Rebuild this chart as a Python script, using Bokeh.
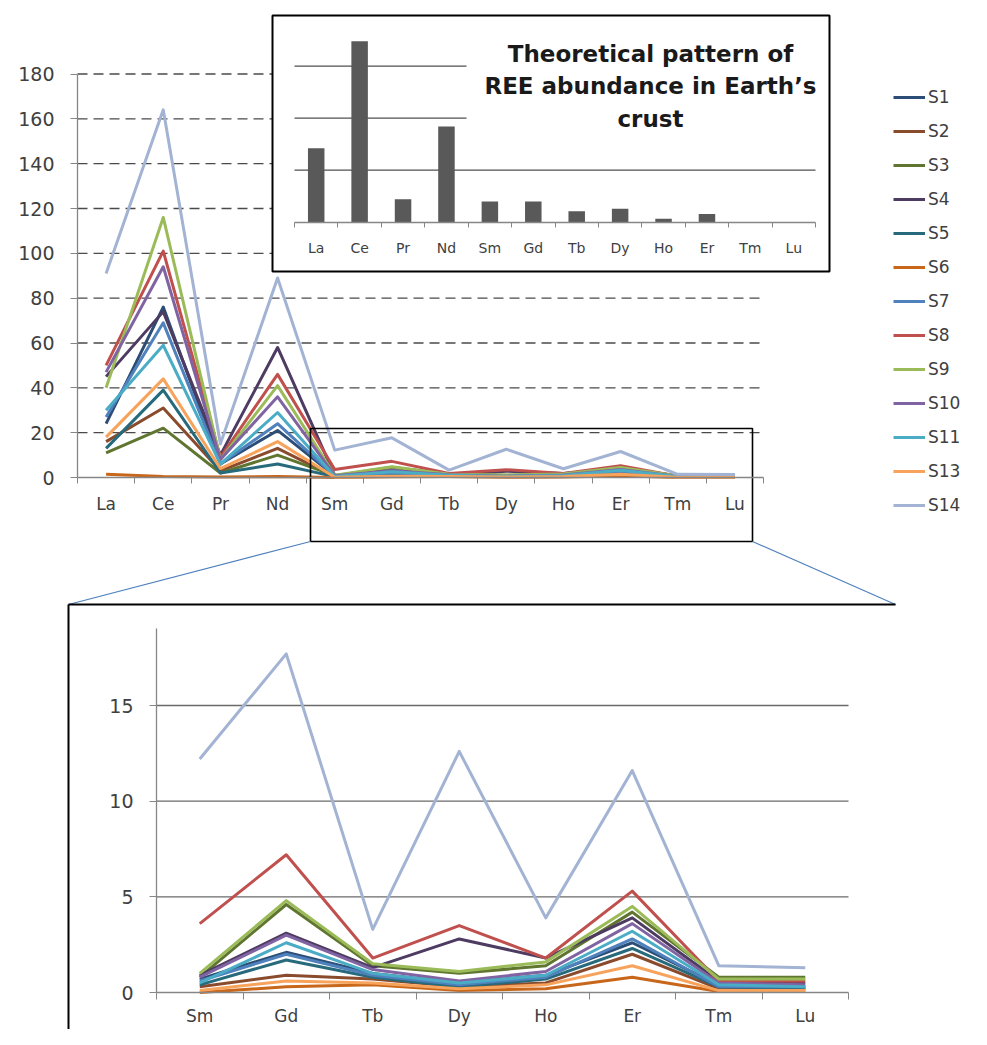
from bokeh.plotting import figure
from bokeh.models import Range1d, LinearAxis, FixedTicker, Legend, LegendItem
from bokeh.core.properties import value
from bokeh.embed import file_html
from bokeh.resources import INLINE

# ---------------- data ----------------
elements = ["La", "Ce", "Pr", "Nd", "Sm", "Gd", "Tb", "Dy", "Ho", "Er", "Tm", "Lu"]
zoom_elements = elements[4:]
crust = [28.4, 69.6, 8.8, 36.8, 8.0, 8.0, 4.2, 5.2, 1.3, 3.2, 0.0, 0.0]

s1 = [24, 76, 6, 21, 0.7, 2.1, 1.0, 0.5, 0.9, 2.6, 0.4, 0.3]
s2 = [16, 31, 3, 13, 0.3, 0.9, 0.7, 0.3, 0.5, 2.0, 0.2, 0.2]
s3 = [11, 22, 2, 10, 0.8, 4.6, 1.4, 1.0, 1.4, 4.2, 0.8, 0.8]
s4 = [45, 74, 10, 58, 0.9, 3.1, 1.3, 2.8, 1.8, 3.9, 0.6, 0.5]
s5 = [13, 39, 2, 6, 0.4, 1.7, 0.8, 0.3, 0.7, 2.3, 0.3, 0.2]
s6 = [1.5, 0.5, 0.2, 0.5, 0.0, 0.3, 0.4, 0.1, 0.2, 0.8, 0.05, 0.05]
s7 = [27, 69, 6, 24, 0.6, 2.0, 0.9, 0.4, 0.8, 2.8, 0.3, 0.3]
s8 = [50, 101, 9, 46, 3.6, 7.2, 1.8, 3.5, 1.8, 5.3, 0.6, 0.6]
s9 = [40, 116, 8, 41, 1.0, 4.8, 1.5, 1.1, 1.6, 4.5, 0.7, 0.7]
s10 = [47, 94, 8, 36, 0.8, 3.0, 1.2, 0.6, 1.1, 3.6, 0.5, 0.4]
s11 = [30, 59, 6, 29, 0.5, 2.6, 1.0, 0.5, 0.9, 3.2, 0.4, 0.3]
s13 = [18, 44, 4, 16, 0.1, 0.6, 0.5, 0.2, 0.4, 1.4, 0.1, 0.1]
s14 = [91, 164, 15, 89, 12.2, 17.7, 3.3, 12.6, 3.9, 11.6, 1.4, 1.3]

series_names = ["S1", "S2", "S3", "S4", "S5", "S6", "S7", "S8", "S9", "S10", "S11", "S13", "S14"]
series_values = [s1, s2, s3, s4, s5, s6, s7, s8, s9, s10, s11, s13, s14]
series_colors = ["#2C4D75", "#8A4B2D", "#5F7530", "#4D3B62", "#276A7C", "#C8661A", "#4F81BD",
                 "#C0504D", "#9BBB59", "#8064A2", "#4BACC6", "#F7A35C", "#A3B3D3"]

main_yticks = [0, 20, 40, 60, 80, 100, 120, 140, 160, 180]
zoom_yticks = [0, 5, 10, 15]
zoom_ymax = 19
inset_grid = [20, 40, 60]
title_lines = ["Theoretical pattern of", "REE abundance in Earth\u2019s", "crust"]

# ---------------- layout (screenshot pixels) ----------------
W, H = 971, 1029
OX, OY = 0, 0
FONT = "DejaVu Sans"
TXT = "#404040"
AXC = "#868686"


def lin_range(d0, p0, d1, p1, q0, q1):
    k = (d1 - d0) / (p1 - p0)
    return Range1d(d0 + (q0 - p0) * k, d0 + (q1 - p0) * k)


def xr(d0, p0, d1, p1):
    return lin_range(d0, p0, d1, p1, OX, OX + W)


def yr(d0, p0, d1, p1):
    return lin_range(d0, p0, d1, p1, OY + H, OY)


n = len(elements)
nz = len(zoom_elements)
idx = list(range(n))
zidx = list(range(nz))
bnd = [i - 0.5 for i in range(n + 1)]
zbnd = [i - 0.5 for i in range(nz + 1)]

p = figure(width=W, height=H, x_range=Range1d(OX, OX + W), y_range=Range1d(OY + H, OY),
           x_axis_type=None, y_axis_type=None, toolbar_location=None,
           output_backend="svg", min_border=0)
p.outline_line_color = None
p.background_fill_color = "white"

p.extra_x_ranges = {
    "mx": xr(-0.5, 77, n - 0.5, 763),
    "zx": xr(-0.5, 156, nz - 0.5, 848),
    "ix": xr(-0.5, 294, n - 0.5, 815),
}
p.extra_y_ranges = {
    "my": yr(0, 477, 180, 73.5),
    "zy": yr(0, 992, 15, 705),
    "iy": yr(0, 221.7, 60, 65.7),
}

# ---------------- main chart ----------------
gy = main_yticks[1:]
p.segment(x0=[bnd[0]] * len(gy), x1=[bnd[-1]] * len(gy), y0=gy, y1=gy,
          x_range_name="mx", y_range_name="my",
          line_color="#4a4a4a", line_width=1.3, line_dash="10 6")

renderers = []
for name, vals, col in zip(series_names, series_values, series_colors):
    r = p.line(idx, vals, x_range_name="mx", y_range_name="my",
               line_color=col, line_width=3, line_join="round")
    renderers.append(r)


def cat_axis(xn, yn, ticks, minor, labels, lo, hi, size, standoff, tick_out):
    ax = LinearAxis(x_range_name=xn, y_range_name=yn, fixed_location=0,
                    bounds=(lo, hi), ticker=FixedTicker(ticks=ticks, minor_ticks=minor))
    ax.major_label_overrides = {i: lab for i, lab in zip(ticks, labels)}
    ax.major_tick_line_color = None
    ax.minor_tick_line_color = AXC
    ax.minor_tick_in = 0
    ax.minor_tick_out = tick_out
    ax.axis_line_color = AXC
    ax.axis_line_width = 1.3
    ax.major_label_text_font = FONT
    ax.major_label_text_font_size = size
    ax.major_label_text_color = TXT
    ax.major_label_standoff = standoff
    return ax


def val_axis(xn, yn, ticks, lo, hi, loc, size, standoff):
    ax = LinearAxis(x_range_name=xn, y_range_name=yn, fixed_location=loc,
                    bounds=(lo, hi), ticker=FixedTicker(ticks=ticks, minor_ticks=[]))
    ax.major_tick_line_color = AXC
    ax.major_tick_in = 0
    ax.major_tick_out = 7
    ax.minor_tick_line_color = None
    ax.axis_line_color = AXC
    ax.axis_line_width = 1.3
    ax.major_label_text_font = FONT
    ax.major_label_text_font_size = size
    ax.major_label_text_color = TXT
    ax.major_label_standoff = standoff
    return ax


p.add_layout(cat_axis("mx", "my", idx, bnd, elements, bnd[0], bnd[-1], "17px", 10, 6), "below")
p.add_layout(val_axis("mx", "my", main_yticks, main_yticks[0], main_yticks[-1], bnd[0], "19px", 16), "left")

# zoom box on main chart and connectors
p.quad(left=[310], right=[752], top=[428], bottom=[541], fill_color=None,
       line_color="black", line_width=1.6)
p.segment(x0=[310, 752], y0=[541, 541], x1=[68, 895], y1=[604, 604],
          line_color="#4F81BD", line_width=1.2)

# ---------------- inset chart ----------------
p.quad(left=[272], right=[829], top=[15], bottom=[271], fill_color="white",
       line_color="black", line_width=2)
p.segment(x0=[bnd[0]] * len(inset_grid), x1=[bnd[-1]] * len(inset_grid), y0=inset_grid, y1=inset_grid,
          x_range_name="ix", y_range_name="iy", line_color="#505050", line_width=1.2)
p.quad(left=[466], right=[822], top=[28], bottom=[150], fill_color="white", line_color=None)
p.vbar(x=idx, top=crust, width=0.38, x_range_name="ix", y_range_name="iy",
       fill_color="#595959", line_color=None)
p.add_layout(cat_axis("ix", "iy", idx, bnd, elements, bnd[0], bnd[-1], "14px", 12, 5), "below")
p.text(x=[650] * 3, y=[53, 85, 118], text=title_lines, text_font=value(FONT),
       text_font_style="bold", text_font_size="23px", text_color="#1a1a1a",
       text_align="center", text_baseline="middle")

# ---------------- zoomed chart ----------------
# frame of the enlarged view: left and top edges (open on the right, cut at the bottom)
p.multi_line(xs=[[68, 68], [68, 895]], ys=[[1100, 604], [604, 604]],
             line_color="black", line_width=2)
zg = zoom_yticks[1:]
p.segment(x0=[zbnd[0]] * len(zg), x1=[zbnd[-1]] * len(zg), y0=zg, y1=zg,
          x_range_name="zx", y_range_name="zy", line_color="#6a6a6a", line_width=1.3)
for name, vals, col in zip(series_names, series_values, series_colors):
    p.line(zidx, vals[4:], x_range_name="zx", y_range_name="zy",
           line_color=col, line_width=3, line_join="round")
p.add_layout(cat_axis("zx", "zy", zidx, zbnd, zoom_elements, zbnd[0], zbnd[-1], "17px", 6, 7), "below")
p.add_layout(val_axis("zx", "zy", zoom_yticks, 0, zoom_ymax, zbnd[0], "19px", 16), "left")

# ---------------- legend ----------------
legend = Legend(items=[LegendItem(label=nm, renderers=[r]) for nm, r in zip(series_names, renderers)],
                location=(893 - OX, OY + H - 515), orientation="vertical",
                glyph_width=32, glyph_height=20, label_height=20, spacing=14,
                label_standoff=3, padding=0, margin=0,
                label_text_font=FONT, label_text_font_size="17px", label_text_color=TXT,
                background_fill_alpha=0, border_line_color=None)
p.add_layout(legend)

open("out.html", "w").write(file_html(p, INLINE))
